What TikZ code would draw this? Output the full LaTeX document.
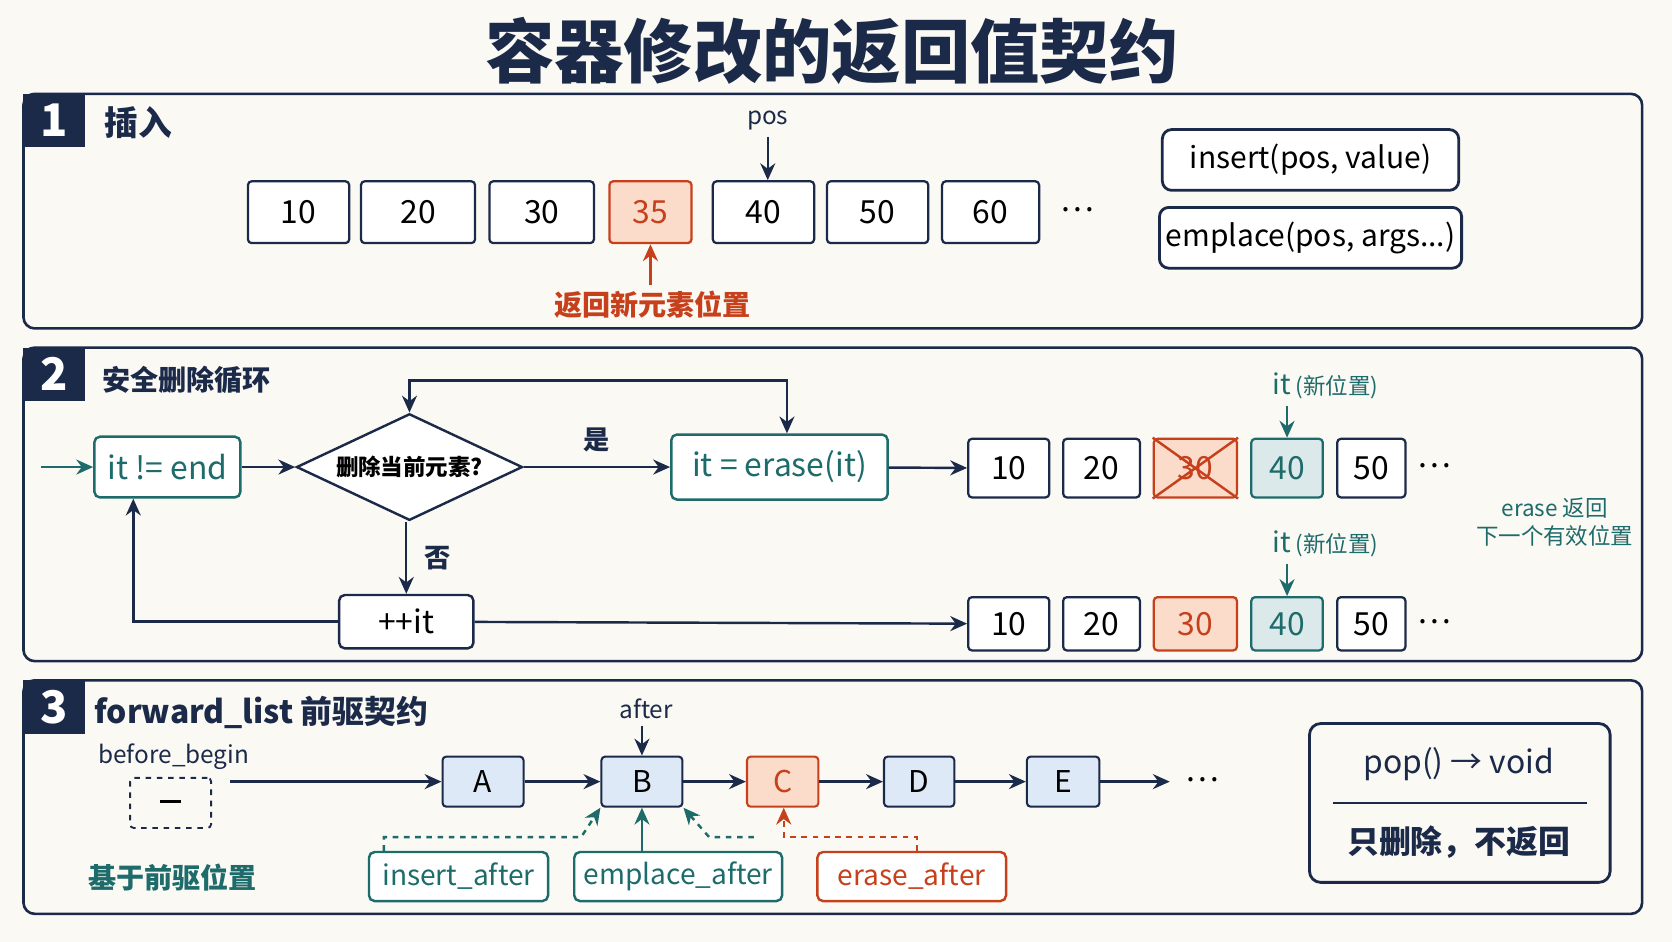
\documentclass[tikz,border=0pt]{standalone}
\usepackage{fontspec}
\setmainfont{Noto Sans CJK SC}
\usetikzlibrary{shapes.geometric,arrows.meta}
\definecolor{navy}{HTML}{1C2A4A}
\definecolor{teal}{HTML}{1E6B6B}
\definecolor{rust}{HTML}{C7401C}
\definecolor{rustfill}{HTML}{FBDCCB}
\definecolor{bluefill}{HTML}{DDE9F6}
\definecolor{tealfill}{HTML}{DCE9EA}
\definecolor{paper}{HTML}{FBF9F3}
\begin{document}
\begin{tikzpicture}[x=0.02cm,y=-0.02cm,>={Stealth[length=9pt,width=8pt]}]
\tikzset{panel/.style={draw=navy,line width=1.4pt,rounded corners=6pt},
  badge/.style={fill=navy,text=white,font=\fontsize{24}{24}\selectfont\bfseries,minimum width=1.16cm,minimum height=1cm},
  cell/.style={draw=navy,line width=1.2pt,rounded corners=2pt,fill=white,font=\fontsize{17}{17}\selectfont,minimum width=1.9cm,minimum height=1.16cm},
  hot/.style={draw=rust,fill=rustfill,text=rust},
  tcell/.style={draw=teal,fill=tealfill,text=teal},
  tbox/.style={draw=teal,line width=1.3pt,rounded corners=3pt,fill=white,text=teal,font=\fontsize{17}{17}\selectfont},
  api/.style={draw=navy,line width=1.5pt,rounded corners=5pt,fill=white,font=\fontsize{16}{16}\selectfont,minimum width=5.56cm,minimum height=1.14cm},
  lnode/.style={draw=navy,line width=1.1pt,rounded corners=2pt,fill=bluefill,font=\fontsize{16}{16}\selectfont,minimum width=1.52cm,minimum height=0.94cm},
  sbox/.style={tbox,font=\fontsize{15}{15}\selectfont,minimum height=0.92cm},
  tag/.style={font=\fontsize{13}{13}\selectfont},
  line/.style={draw=navy,line width=1.3pt},
  tline/.style={draw=teal,line width=1.3pt}}
\fill[paper] (0,0) rectangle (1568,883);
\useasboundingbox (0,0) rectangle (1568,883);
\node[text=navy,font=\fontsize{37}{37}\selectfont\bfseries] (title) at (780,48) {容器修改的返回值契约};

% section 1
\draw[panel] (22,88) rectangle (1540,308);
\node[badge] (b1) at (51,113) {1};
\node[font=\fontsize{18}{18}\selectfont\bfseries,text=navy] (s1) at (130,115) {插入};
\node[cell] (p10) at (280,199) {10};
\node[cell,minimum width=2.14cm] (p20) at (392,199) {20};
\node[cell,minimum width=1.96cm] (p30) at (508,199) {30};
\node[cell,hot,minimum width=1.54cm] (p35) at (610,199) {35};
\node[cell] (p40) at (716,199) {40};
\node[cell] (p50) at (823,199) {50};
\node[cell,minimum width=1.82cm] (p60) at (929,199) {60};
\node[font=\fontsize{17}{17}\selectfont] (pdots) at (1010,197) {\dots};
\node[tag,text=navy] (pos) at (720,113) {pos};
\draw[line,->] (pos) -- (p40.north -| pos);
\node[font=\fontsize{15}{15}\selectfont\bfseries,text=rust] (ret) at (612,286) {返回新元素位置};
\draw[draw=rust,line width=2pt,->] (ret.north -| p35) -- (p35.south);
\node[api] (ins) at (1229,150) {insert(pos, value)};
\node[api] (emp) at (1229,223) {emplace(pos, args...)};

% section 2
\draw[panel] (22,326) rectangle (1540,620);
\node[badge] (b2) at (51,351) {2};
\node[font=\fontsize{15}{15}\selectfont\bfseries,text=navy] (s2) at (175,356) {安全删除循环};
\coordinate (entry) at (38,438);
\node[tbox,minimum width=2.74cm,minimum height=1.14cm] (cond) at (157,438) {it != end};
\node[diamond,aspect=2.1,draw=navy,line width=1.3pt,fill=white,inner sep=0pt,minimum width=4.24cm,minimum height=2cm,font=\fontsize{12}{12}\selectfont\bfseries] (ask) at (384,438) {删除当前元素?};
\node[tbox,minimum width=4.06cm,minimum height=1.22cm] (erase) at (731,438) {it = erase(it)};
\node[draw=navy,line width=1.3pt,rounded corners=3pt,fill=white,font=\fontsize{17}{17}\selectfont,minimum width=2.52cm,minimum height=1cm] (inc) at (381,583) {++it};
\draw[tline,->] (entry) -- (cond);
\draw[line,->] (cond) -- (ask);
\draw[line,->] (ask) -- node[above=4pt,font=\fontsize{14}{14}\selectfont\bfseries,text=navy] (yes) {是} (erase);
\draw[line,<->] (ask.north) |- (560,357) -| (erase.north -| 738,0);
\draw[line,->] (ask.south -| inc) -- node[right=6pt,font=\fontsize{14}{14}\selectfont\bfseries,text=navy] (no) {否} (inc);
\draw[line,->] (inc.west) -| (cond.south -| 125,0);
\foreach \n/\x/\w/\v/\s in {a/946/1.52/10/,b/1033/1.44/20/,c/1121/1.56/30/hot,d/1207/1.34/40/tcell,e/1286/1.28/50/}{
  \node[cell,\s,minimum width=\w cm,minimum height=1.1cm] (r\n) at (\x,439) {\v};
  \node[cell,\s,minimum width=\w cm,minimum height=1.0cm] (q\n) at (\x,585) {\v};
}
\draw[draw=rust,line width=1.3pt] (rc.north west) -- (rc.south east) (rc.north east) -- (rc.south west);
\node[font=\fontsize{17}{17}\selectfont] (rdots) at (1345,437) {\dots};
\node[font=\fontsize{17}{17}\selectfont] (qdots) at (1345,583) {\dots};
\draw[line,->] (erase) -- (ra);
\draw[line,->] (inc) -- (qa);
\node[text=teal,font=\fontsize{15}{15}\selectfont] (itn1) at (1243,362) {it\,{\fontsize{12}{12}\selectfont(新位置)}};
\node[text=teal,font=\fontsize{15}{15}\selectfont] (itn2) at (1243,510) {it\,{\fontsize{12}{12}\selectfont(新位置)}};
\draw[tline,->] (itn1.south -| rd) -- (rd);
\draw[tline,->] (itn2.south -| qd) -- (qd);
\node[text=teal,font=\fontsize{12}{15}\selectfont,align=center] (note) at (1458,490) {erase 返回\\下一个有效位置};

% section 3
\draw[panel] (22,638) rectangle (1540,857);
\node[badge] (b3) at (51,663) {3};
\node[font=\fontsize{17}{17}\selectfont\bfseries,text=navy] (s3) at (245,668) {forward\_list 前驱契约};
\node[tag,text=navy] (bb) at (163,710) {before\_begin};
\node[draw=navy,dashed,line width=1pt,rounded corners=2pt,minimum width=1.52cm,minimum height=0.94cm] (head) at (160,753) {\rule[0.3ex]{0.4cm}{1.2pt}};
\node[text=teal,font=\fontsize{15}{15}\selectfont\bfseries] (base) at (162,823) {基于前驱位置};
\node[lnode] (nA) at (453,733) {A};
\node[lnode] (nB) at (602,733) {B};
\node[lnode,draw=rust,fill=rustfill,text=rust,minimum width=1.34cm] (nC) at (734,733) {C};
\node[lnode,minimum width=1.32cm] (nD) at (862,733) {D};
\node[lnode,minimum width=1.36cm] (nE) at (997,733) {E};
\node[font=\fontsize{17}{17}\selectfont] (ndots) at (1128,731) {\dots};
\coordinate (hout) at (216,733);
\draw[line,->] (hout) -- (nA);
\draw[line,->] (nA) -- (nB);
\draw[line,->] (nB) -- (nC);
\draw[line,->] (nC) -- (nD);
\draw[line,->] (nD) -- (nE);
\draw[line,->] (nE) -- (1097,733);
\node[tag,text=navy] (aft) at (606,665) {after};
\draw[line,->] (aft.south -| nB) -- (nB);
\node[sbox,minimum width=3.36cm] (ia) at (430,822) {insert\_after};
\node[sbox,minimum width=3.9cm] (ea) at (636,822) {emplace\_after};
\node[sbox,draw=rust,text=rust,minimum width=3.54cm] (ra2) at (855,822) {erase\_after};
\draw[tline,dashed,->] (ia.north -| 360,0) -- (360,785) -- (545,785) -- (nB.south west);
\draw[tline,->] (ea.north -| nB) -- (nB);
\draw[tline,dashed,->] (707,785) -- (665,785) -- (nB.south east);
\draw[draw=rust,line width=1.3pt,dashed,->] (ra2.north -| 860,0) -- (860,785) -- (735,785) -- (nC.south -| 735,0);
\node[draw=navy,line width=1.5pt,rounded corners=6pt,minimum width=5.64cm,minimum height=2.98cm] (pop) at (1369,753) {};
\draw[line] (1250,753) -- (1488,753);
\node[font=\fontsize{17}{17}\selectfont,text=navy] (popt) at (1368,717) {pop() → void};
\node[font=\fontsize{17}{17}\selectfont\bfseries,text=navy] (popn) at (1368,790) {只删除，不返回};
\end{tikzpicture}
\end{document}
